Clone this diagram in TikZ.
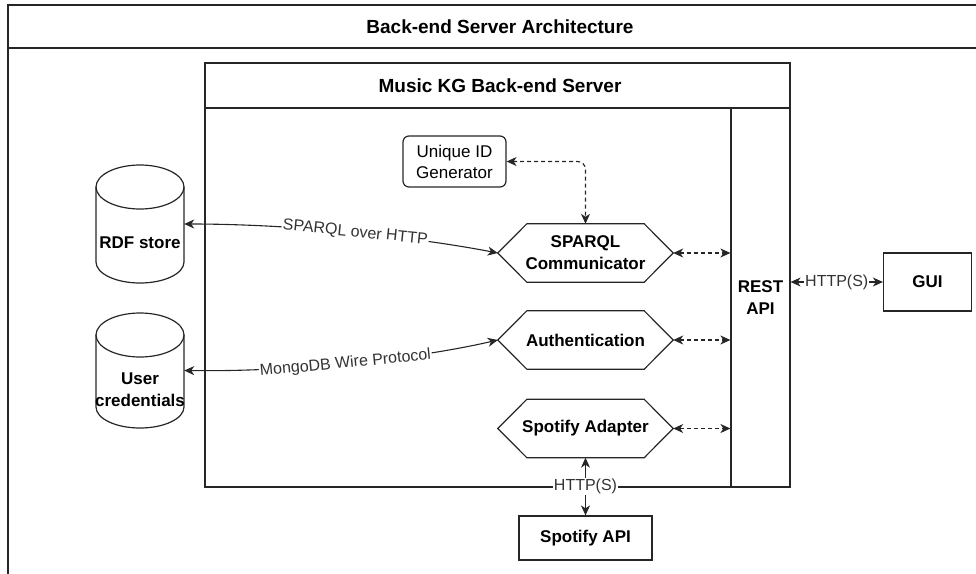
\documentclass[tikz,border=0pt]{standalone}
\usepackage{fontspec}
\setmainfont{Liberation Sans}
\usetikzlibrary{arrows.meta,calc}
\newcommand{\bigbold}{\fontsize{19}{22}\selectfont\bfseries}
\newcommand{\nodebold}{\fontsize{17}{22}\selectfont\bfseries}
\newcommand{\noderegular}{\fontsize{17}{21}\selectfont}
\newcommand{\edgefont}{\fontsize{16}{18}\selectfont}
\begin{document}
\begin{tikzpicture}[x=1pt,y=-1pt,
  frameline/.style={draw=black!85, line width=1.2pt},
  plainbox/.style={frameline, inner sep=0pt, align=center, font=\nodebold},
  hexbox/.style={inner sep=0pt, minimum width=175pt, minimum height=58pt, align=center, font=\nodebold},
  dbbox/.style={inner sep=0pt, minimum width=88pt, minimum height=118pt},
  dbtext/.style={inner sep=0pt, align=center, font=\nodebold},
  tip/.style={{Stealth[length=10pt,width=9pt,inset=3pt]}-{Stealth[length=10pt,width=9pt,inset=3pt]}},
  conn/.style={draw=black!85, line width=1.1pt, tip},
  dashconn/.style={conn, dash pattern=on 4pt off 3pt},
  elabel/.style={fill=white, inner sep=1pt, font=\edgefont, text=black!80}
]
\useasboundingbox (0,0) rectangle (976,573);
\clip (0,0) rectangle (976,573);

% outer frame with its header strip
\draw[frameline] (8,5) rectangle (995,600);
\draw[frameline] (8,48) -- (995,48);
\node[font=\bigbold] (archtitle) at (500,27) {Back-end Server Architecture};

% server container with header
\draw[frameline] (205,63) rectangle (790,487);
\draw[frameline] (205,108) -- (790,108);
\node[font=\bigbold] (srvtitle) at (500,86) {Music KG Back-end Server};

% REST API column
\node[plainbox, minimum width=59pt, minimum height=379pt] (rest) at (760.5,297.5) {REST\\API};

% inner components
\node[frameline, rounded corners=6pt, inner sep=0pt, minimum width=103pt, minimum height=51pt,
      align=center, font=\noderegular] (uid) at (454.5,161.5) {Unique ID\\Generator};
\node[hexbox] (sparql) at (585.5,253) {SPARQL\\Communicator};
\node[hexbox] (auth) at (585.5,340) {Authentication};
\node[hexbox] (spotify) at (585.5,428.5) {Spotify Adapter};
\foreach \h in {sparql,auth,spotify}{
  \draw[frameline] (\h.west) -- ([xshift=29pt]\h.north west) -- ([xshift=-29pt]\h.north east)
    -- (\h.east) -- ([xshift=-29pt]\h.south east) -- ([xshift=29pt]\h.south west) -- cycle;
}

% external systems
\node[plainbox, minimum width=88pt, minimum height=58pt] (gui) at (927.5,282) {GUI};
\node[plainbox, minimum width=133pt, minimum height=44pt] (spotapi) at (585.5,538) {Spotify API};

% databases
\node[dbbox] (rdf) at (140,224) {};
\draw[frameline] (96,187) -- (96,262) arc[start angle=180, end angle=0, x radius=44, y radius=21] -- (184,187);
\draw[frameline] (140,187) ellipse [x radius=44, y radius=22];
\node[dbtext] (rdftext) at (140,243) {RDF store};

\node[dbbox] (users) at (140,370.5) {};
\draw[frameline] (96,335) -- (96,407) arc[start angle=180, end angle=0, x radius=44, y radius=21] -- (184,335);
\draw[frameline] (140,335) ellipse [x radius=44, y radius=22];
\node[dbtext] (userstext) at (140,390) {User\\credentials};

% connectors
\draw[conn] (rdf.east) .. controls (300,224) and (420,238) .. (sparql.west)
  node[elabel, midway, sloped] {SPARQL over HTTP};
\draw[conn] (users.east) .. controls (300,372) and (420,358) .. (auth.west)
  node[elabel, pos=0.47, sloped] {MongoDB Wire Protocol};
\draw[dashconn, rounded corners=8pt] (uid.east) -| (sparql.north);
\draw[dashconn] (sparql.east) -- (sparql.east -| rest.west);
\draw[dashconn] (auth.east) -- (auth.east -| rest.west);
\draw[dashconn] (spotify.east) -- (spotify.east -| rest.west);
\draw[conn] (gui.west -| rest.east) -- (gui.west) node[elabel, midway] {HTTP(S)};
\draw[conn] (spotify.south) -- (spotapi.north) node[elabel, midway] {HTTP(S)};
\end{tikzpicture}
\end{document}
